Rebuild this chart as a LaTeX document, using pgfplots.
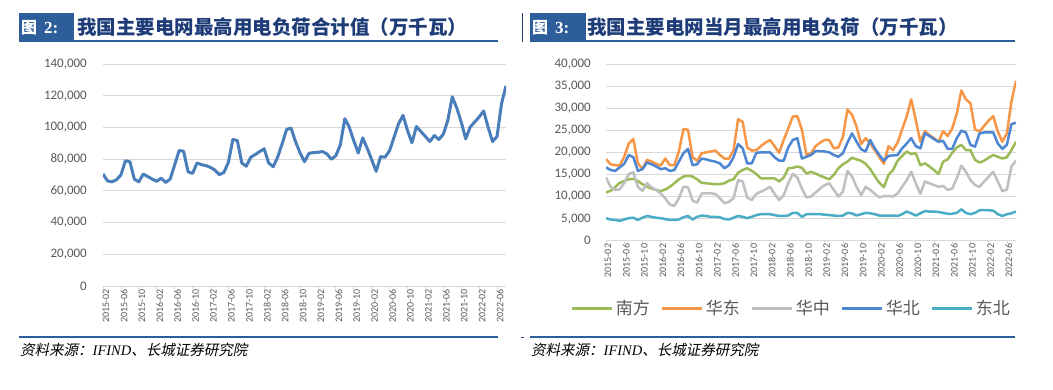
\documentclass[border=0pt]{standalone}
\usepackage{pgfplots}
\pgfplotsset{compat=1.18}
\usepackage{pgfplotstable}
\usepackage{fontspec}
\setmainfont{Liberation Serif}
\newfontfamily\carlito{Carlito}
\newfontfamily\cjk{Noto Sans CJK SC}
\newfontfamily\cjkit[FakeSlant=0.2]{Noto Sans CJK SC}
\definecolor{boxblue}{RGB}{46,94,154}
\definecolor{titleblue}{RGB}{30,60,120}
\definecolor{linelt}{RGB}{74,126,187}
\definecolor{cnf}{RGB}{155,187,89}
\definecolor{chd}{RGB}{247,150,70}
\definecolor{chz}{RGB}{191,191,191}
\definecolor{chb}{RGB}{78,134,210}
\definecolor{cdb}{RGB}{75,172,198}
\definecolor{tickgrey}{RGB}{89,89,89}
\definecolor{gridgrey}{RGB}{217,217,217}

\pgfplotstableread{
i v
0 70600
1 66300
2 65700
3 67000
4 70000
5 79000
6 78400
7 67400
8 65700
9 70600
10 69000
11 67400
12 66000
13 68000
14 65300
15 67400
16 76300
17 85400
18 85000
19 72000
20 71000
21 77600
22 76500
23 75900
24 74800
25 73100
26 70200
27 71600
28 78000
29 92400
30 91700
31 77600
32 75500
33 81200
34 82900
35 84800
36 86500
37 77600
38 75200
39 81200
40 89600
41 98700
42 99600
43 91000
44 84000
45 78400
46 83700
47 84100
48 84300
49 84800
50 83300
51 79900
52 82200
53 89000
54 105500
55 100200
56 91700
57 83900
58 93400
59 86900
60 79700
61 72300
62 81600
63 81200
64 85400
65 93900
66 102300
67 107600
68 98100
69 90300
70 100600
71 97400
72 94300
73 91100
74 94900
75 92400
76 95700
77 104400
78 119300
79 112300
80 103400
81 92800
82 100200
83 103400
84 106600
85 110400
86 100200
87 91100
88 94300
89 115000
90 126200
}\totaldata

\pgfplotstableread{
i nf hd hz hb db
0 10900 18500 14300 16600 5100
1 11300 17300 12200 16000 4800
2 12100 17100 11500 15800 4700
3 13100 17000 11600 16600 4500
4 13500 19000 13100 17400 4800
5 13900 22000 15100 19400 5100
6 14000 23000 15500 18900 5200
7 13500 17500 12200 15800 4700
8 12800 16200 11300 16200 5200
9 12200 18300 13000 17700 5600
10 11800 17900 12100 17300 5400
11 11500 17400 11500 16800 5200
12 11200 17000 10700 16200 5100
13 11600 18600 9600 16400 4900
14 12200 17100 8200 15800 4700
15 13000 17100 7900 16000 4700
16 13900 20200 9600 17900 4800
17 14500 25300 12200 19800 5300
18 14700 25100 12100 20800 5600
19 14500 18900 9100 17100 4800
20 13900 18100 8600 17300 5400
21 13100 19800 10700 18600 5700
22 13000 20000 10700 18400 5600
23 12900 20200 10700 18100 5400
24 12800 20400 10600 17900 5400
25 12800 19400 9600 17500 5300
26 13000 18600 8500 16400 4900
27 13600 18600 8800 17100 4800
28 13900 20500 9600 18900 5200
29 15400 27500 13700 21900 5600
30 16000 26900 13400 20900 5400
31 16400 21100 9700 17500 5100
32 15800 20400 9200 17500 5400
33 15100 20500 10600 19900 5800
34 14100 21400 11100 20000 6000
35 14100 22200 11600 20000 6000
36 14100 22800 12200 20000 6000
37 14100 21400 10600 18900 5800
38 13400 19900 9200 18100 5600
39 14300 22800 10300 18100 5600
40 16400 25400 13000 21100 5700
41 16500 28100 15100 22800 6300
42 16800 28200 14300 23200 6300
43 16500 25100 11800 18600 5400
44 15200 19400 9800 19000 6000
45 15600 19800 10000 19400 6000
46 15200 21400 10900 20300 6000
47 14700 22200 11800 20300 6000
48 14300 22800 12600 20200 5900
49 13900 22800 13000 20000 5800
50 14900 20900 11500 19400 5700
51 16400 21100 10000 19000 5600
52 17300 23500 11100 19800 5700
53 17900 29700 15800 22200 6300
54 18800 28500 14500 24300 6200
55 18400 25800 12200 22400 5700
56 18100 21900 10300 20700 6000
57 17400 23200 12200 20200 6300
58 16200 22000 11500 22800 6200
59 14600 20500 10600 20900 6000
60 13100 18900 9800 19400 5700
61 12100 17400 10100 18100 5700
62 14900 21400 10100 19200 5700
63 16000 20500 10000 19300 5700
64 18100 22200 10700 19400 5600
65 19200 25200 12200 20900 6000
66 20200 28100 13700 22000 6600
67 19600 32000 15600 23200 6200
68 19800 27300 13000 21400 5700
69 17100 22400 10600 20900 6200
70 17500 24800 13400 24300 6700
71 16800 23900 13000 23700 6600
72 16000 23200 12600 23000 6600
73 15100 22400 12200 22400 6500
74 17900 24800 12400 22600 6300
75 18400 23700 11500 20800 6100
76 19900 25400 11800 20800 6100
77 21100 28800 14100 23200 6300
78 21700 34000 17000 24900 7100
79 20500 32000 15600 24500 6300
80 20500 31100 13700 21700 6000
81 18300 25200 12600 21300 6300
82 17700 24700 12200 24300 6900
83 18100 26000 13400 24500 6900
84 18800 27200 14500 24500 6900
85 19400 28200 15600 24500 6800
86 19000 24700 13400 22000 6000
87 18600 22400 11200 20800 5600
88 18900 24300 11600 21700 6000
89 20500 31500 16800 26400 6200
90 22400 36200 18100 26700 6600
}\griddata

\pgfplotsset{
  mystyle/.style={
    scale only axis,
    xmin=0, xmax=90,
    axis lines*=left,
    y axis line style={draw=none},
    x axis line style={draw=gridgrey, line width=0.8bp},
    ytick style={draw=none},
    xtick style={draw=gridgrey, line width=0.8bp},
    tick align=outside,
    major tick length=3bp,
    ymajorgrids,
    grid style={draw=gridgrey, line width=0.9bp},
    xtick={0,4,...,88},
    xticklabels={2015-02,2015-06,2015-10,2016-02,2016-06,2016-10,2017-02,2017-06,2017-10,2018-02,2018-06,2018-10,2019-02,2019-06,2019-10,2020-02,2020-06,2020-10,2021-02,2021-06,2021-10,2022-02,2022-06},
    x tick label style={rotate=90, anchor=east, inner sep=0pt, font=\carlito\fontsize{10bp}{10bp}\selectfont, text=tickgrey},
    y tick label style={anchor=east, inner sep=0pt, font=\carlito\fontsize{13bp}{13bp}\selectfont, text=tickgrey},
    scaled y ticks=false,
    /pgf/number format/.cd, fixed, precision=0, 1000 sep={,}, assume math mode=true,
  }
}

\begin{document}
\begin{tikzpicture}[x=1bp,y=1bp]
\path[use as bounding box, fill=white] (0,0) rectangle (1053,389);

% ---------- left panel header ----------
\fill[boxblue] (19,347) rectangle (74,376);
\node[anchor=west, text=white, inner sep=0pt] at (21,361.5) {\cjk\bfseries\fontsize{16bp}{16bp}\selectfont 图\,\normalfont\bfseries\fontsize{17bp}{17bp}\selectfont\ 2:};
\draw[boxblue, line width=1.6bp] (74,348) -- (498,348);
\node[anchor=west, text=titleblue, inner sep=0pt] at (77,361.5) {\cjk\bfseries\fontsize{19.5bp}{19.5bp}\selectfont 我国主要电网最高用电负荷合计值（万千瓦）};
\draw[boxblue, line width=2bp] (19,52) -- (498,52);
\node[anchor=west, inner sep=0pt] at (20,39) {\cjkit\fontsize{14.5bp}{14.5bp}\selectfont 资料来源：\normalfont\itshape\fontsize{14.5bp}{14.5bp}\selectfont IFIND\cjkit 、长城证券研究院};
\draw[boxblue!70!black, line width=1bp] (522,347) -- (522,376);
\draw[boxblue!70!black, line width=1bp] (521,52) -- (524,52);

% ---------- right panel header ----------
\fill[boxblue] (530,347) rectangle (586,376);
\node[anchor=west, text=white, inner sep=0pt] at (532,361.5) {\cjk\bfseries\fontsize{16bp}{16bp}\selectfont 图\,\normalfont\bfseries\fontsize{17bp}{17bp}\selectfont\ 3:};
\draw[boxblue, line width=1.6bp] (586,348) -- (1015,348);
\node[anchor=west, text=titleblue, inner sep=0pt] at (587,361.5) {\cjk\bfseries\fontsize{19.5bp}{19.5bp}\selectfont 我国主要电网当月最高用电负荷（万千瓦）};
\draw[boxblue, line width=2bp] (530,52) -- (1015,52);
\node[anchor=west, inner sep=0pt] at (531,39) {\cjkit\fontsize{14.5bp}{14.5bp}\selectfont 资料来源：\normalfont\itshape\fontsize{14.5bp}{14.5bp}\selectfont IFIND\cjkit 、长城证券研究院};

% ---------- left chart ----------
\begin{axis}[mystyle,
  at={(103bp,103bp)}, anchor=south west,
  width=403bp, height=222bp,
  ymin=0, ymax=140000, ytick={0,20000,...,140000},
  yticklabel style={xshift=-13bp},
  xticklabel style={yshift=-3bp},
]
\addplot[linelt, line width=3bp, line join=round] table[x=i, y=v] {\totaldata};
\end{axis}

% ---------- right chart ----------
\begin{axis}[mystyle,
  at={(606bp,148.3bp)}, anchor=south west,
  width=410bp, height=176.7bp,
  ymin=0, ymax=40000, ytick={0,5000,...,40000},
  yticklabel style={xshift=-12bp},
  xticklabel style={yshift=-2bp},
  legend columns=5,
  legend style={at={(0.452,-0.381)}, anchor=center, draw=none, fill=none,
    font=\cjk\fontsize{17bp}{17bp}\selectfont, text=tickgrey,
    nodes={inner sep=2bp},
    /tikz/every even column/.append style={column sep=9bp}},
  legend image code/.code={\draw[#1, line width=3bp] (0bp,0bp) -- (40bp,0bp);},
]
\addplot[cnf, line width=2.5bp, line join=round] table[x=i, y=nf] {\griddata};
\addlegendentry{南方}
\addplot[chd, line width=2.5bp, line join=round] table[x=i, y=hd] {\griddata};
\addlegendentry{华东}
\addplot[chz, line width=2.5bp, line join=round] table[x=i, y=hz] {\griddata};
\addlegendentry{华中}
\addplot[chb, line width=2.5bp, line join=round] table[x=i, y=hb] {\griddata};
\addlegendentry{华北}
\addplot[cdb, line width=2.5bp, line join=round] table[x=i, y=db] {\griddata};
\addlegendentry{东北}
\end{axis}
\end{tikzpicture}
\end{document}
